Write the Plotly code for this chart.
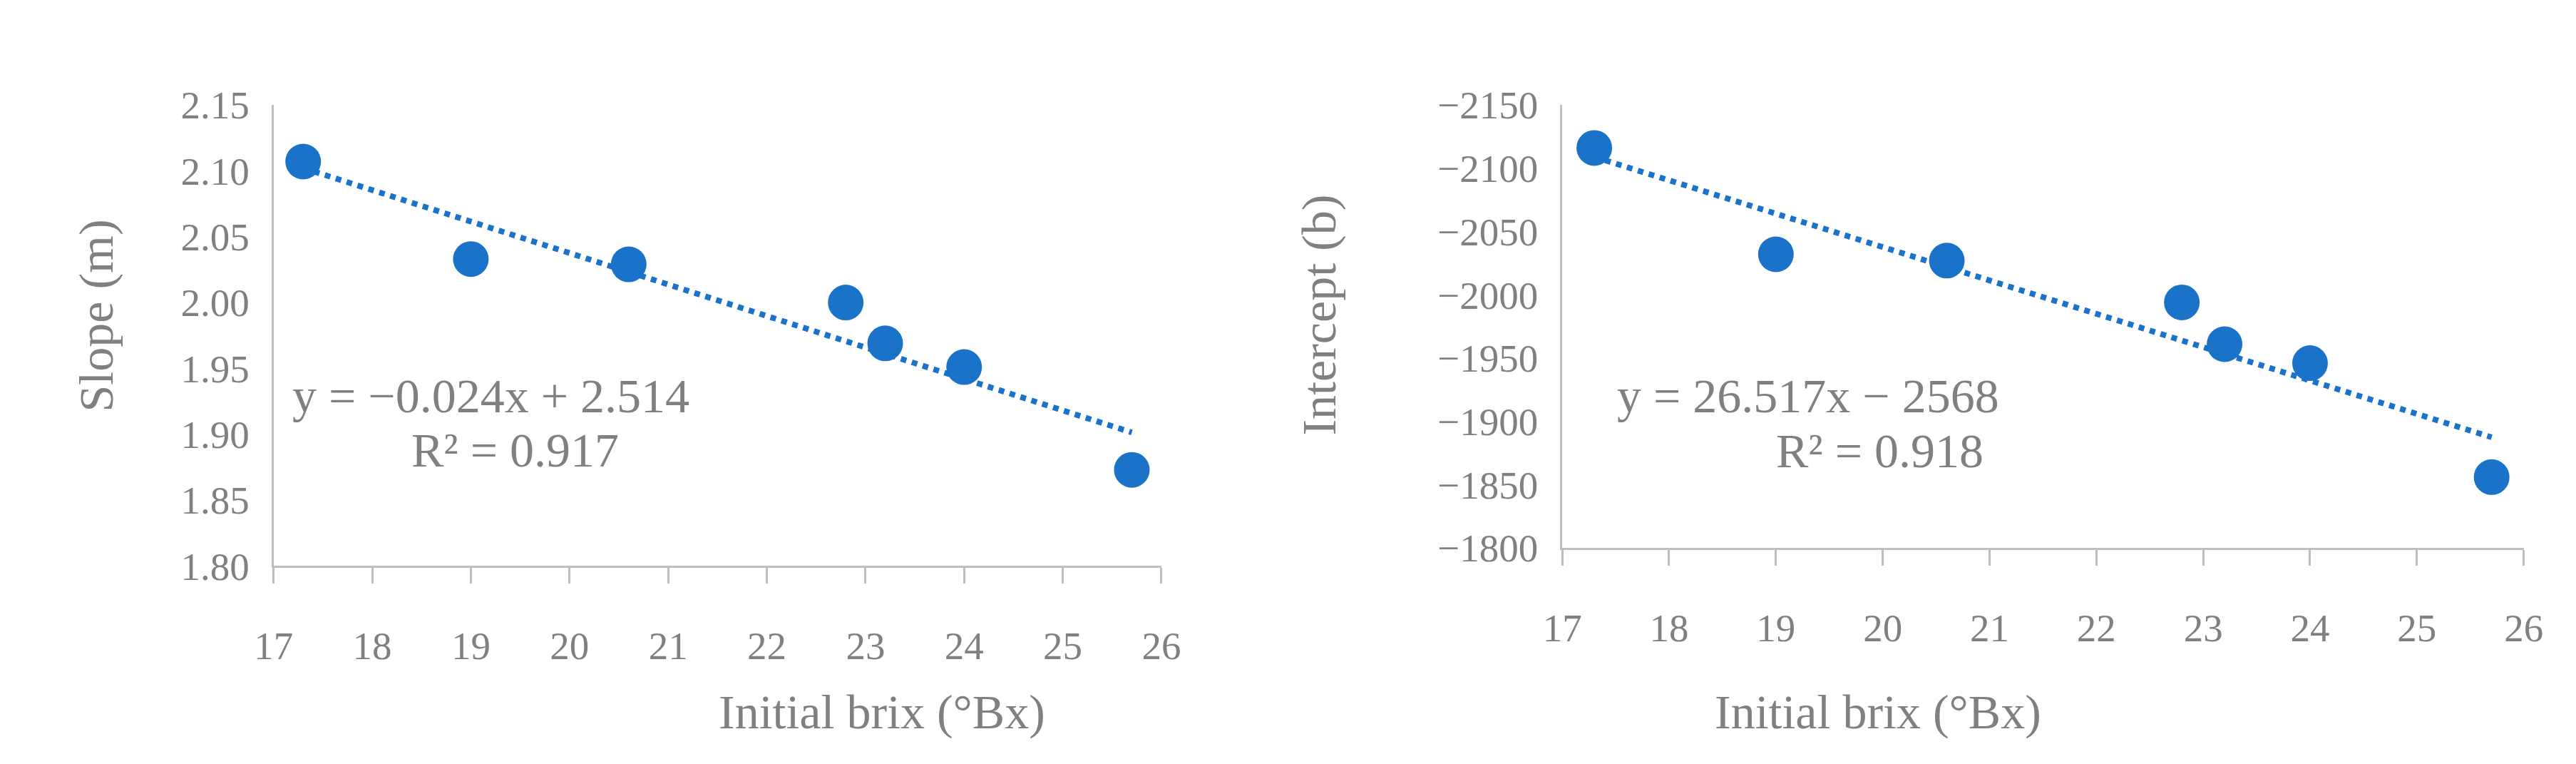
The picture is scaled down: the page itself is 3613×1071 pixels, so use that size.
import numpy as np
import plotly.graph_objects as go

brix = [17.3, 19.0, 20.6, 22.8, 23.2, 24.0, 25.7]
slope = [2.107, 2.033, 2.029, 2.000, 1.969, 1.951, 1.873]
intercept = [-2116, -2032, -2027, -1994, -1961, -1946, -1856]
x_ticks = list(range(17, 27))
blue = "#1a72c9"
gray = "#808080"
FONT = "Liberation Serif"

fig = go.Figure()
for xa, ya, yv in [("x", "y", slope), ("x2", "y2", intercept)]:
    m, c = np.polyfit(brix, yv, 1)
    xs = np.array([brix[0], brix[-1]])
    fig.add_trace(go.Scatter(x=xs, y=m * xs + c, mode="lines", xaxis=xa, yaxis=ya,
                             line=dict(color=blue, width=8, dash="dot"), showlegend=False))
    fig.add_trace(go.Scatter(x=brix, y=yv, mode="markers", xaxis=xa, yaxis=ya,
                             marker=dict(color=blue, size=50), showlegend=False))

axcommon = dict(showgrid=False, zeroline=False, showline=True, linecolor="#bfbfbf", linewidth=3,
                tickfont=dict(family=FONT, size=55, color=gray))
xcommon = dict(axcommon, range=[17, 26], tickvals=x_ticks, ticks="outside", ticklen=22,
               tickcolor="#bfbfbf", tickwidth=3, ticklabelstandoff=40)
fig.update_layout(
    width=3613, height=1071, margin=dict(l=0, r=0, t=0, b=0),
    plot_bgcolor="white", paper_bgcolor="white",
    xaxis=dict(xcommon, domain=[0.098, 0.448], anchor="y"),
    yaxis=dict(axcommon, domain=[0.252, 0.892], range=[1.80, 2.15], dtick=0.05,
               tickformat=".2f", anchor="x", ticklabelstandoff=20),
    xaxis2=dict(xcommon, domain=[0.606, 0.985], anchor="y2"),
    yaxis2=dict(axcommon, domain=[0.277, 0.892], range=[-1800, -2150], dtick=50,
                anchor="x2", ticklabelstandoff=20),
)
tf = dict(family=FONT, size=68, color=gray)
ann = [
    dict(x=22.4, y=2.153, xref="x", yref="y", text="(a)", font=dict(family=FONT, size=62, color="black")),
    dict(x=19.2, y=1.929, xref="x", yref="y", text="y = −0.024x + 2.514", font=tf),
    dict(x=19.45, y=1.888, xref="x", yref="y", text="R² = 0.917", font=tf),
    dict(x=21.76, y=-2154, xref="x2", yref="y2", text="(b)", font=dict(family=FONT, size=62, color="black")),
    dict(x=19.3, y=-1920, xref="x2", yref="y2", text="y = 26.517x − 2568", font=tf),
    dict(x=19.97, y=-1877, xref="x2", yref="y2", text="R² = 0.918", font=tf),
    dict(x=0.273, y=0.01, xref="paper", yref="paper", text="Initial brix (°Bx)", font=tf, yanchor="bottom"),
    dict(x=0.7955, y=0.01, xref="paper", yref="paper", text="Initial brix (°Bx)", font=tf, yanchor="bottom"),
    dict(x=0.017, y=0.6, xref="paper", yref="paper", text="Slope (m)", textangle=-90, font=tf),
    dict(x=0.51, y=0.6, xref="paper", yref="paper", text="Intercept (b)", textangle=-90, font=tf),
]
for a in ann:
    a["showarrow"] = False
    fig.add_annotation(**a)
fig.write_html("out.html")
